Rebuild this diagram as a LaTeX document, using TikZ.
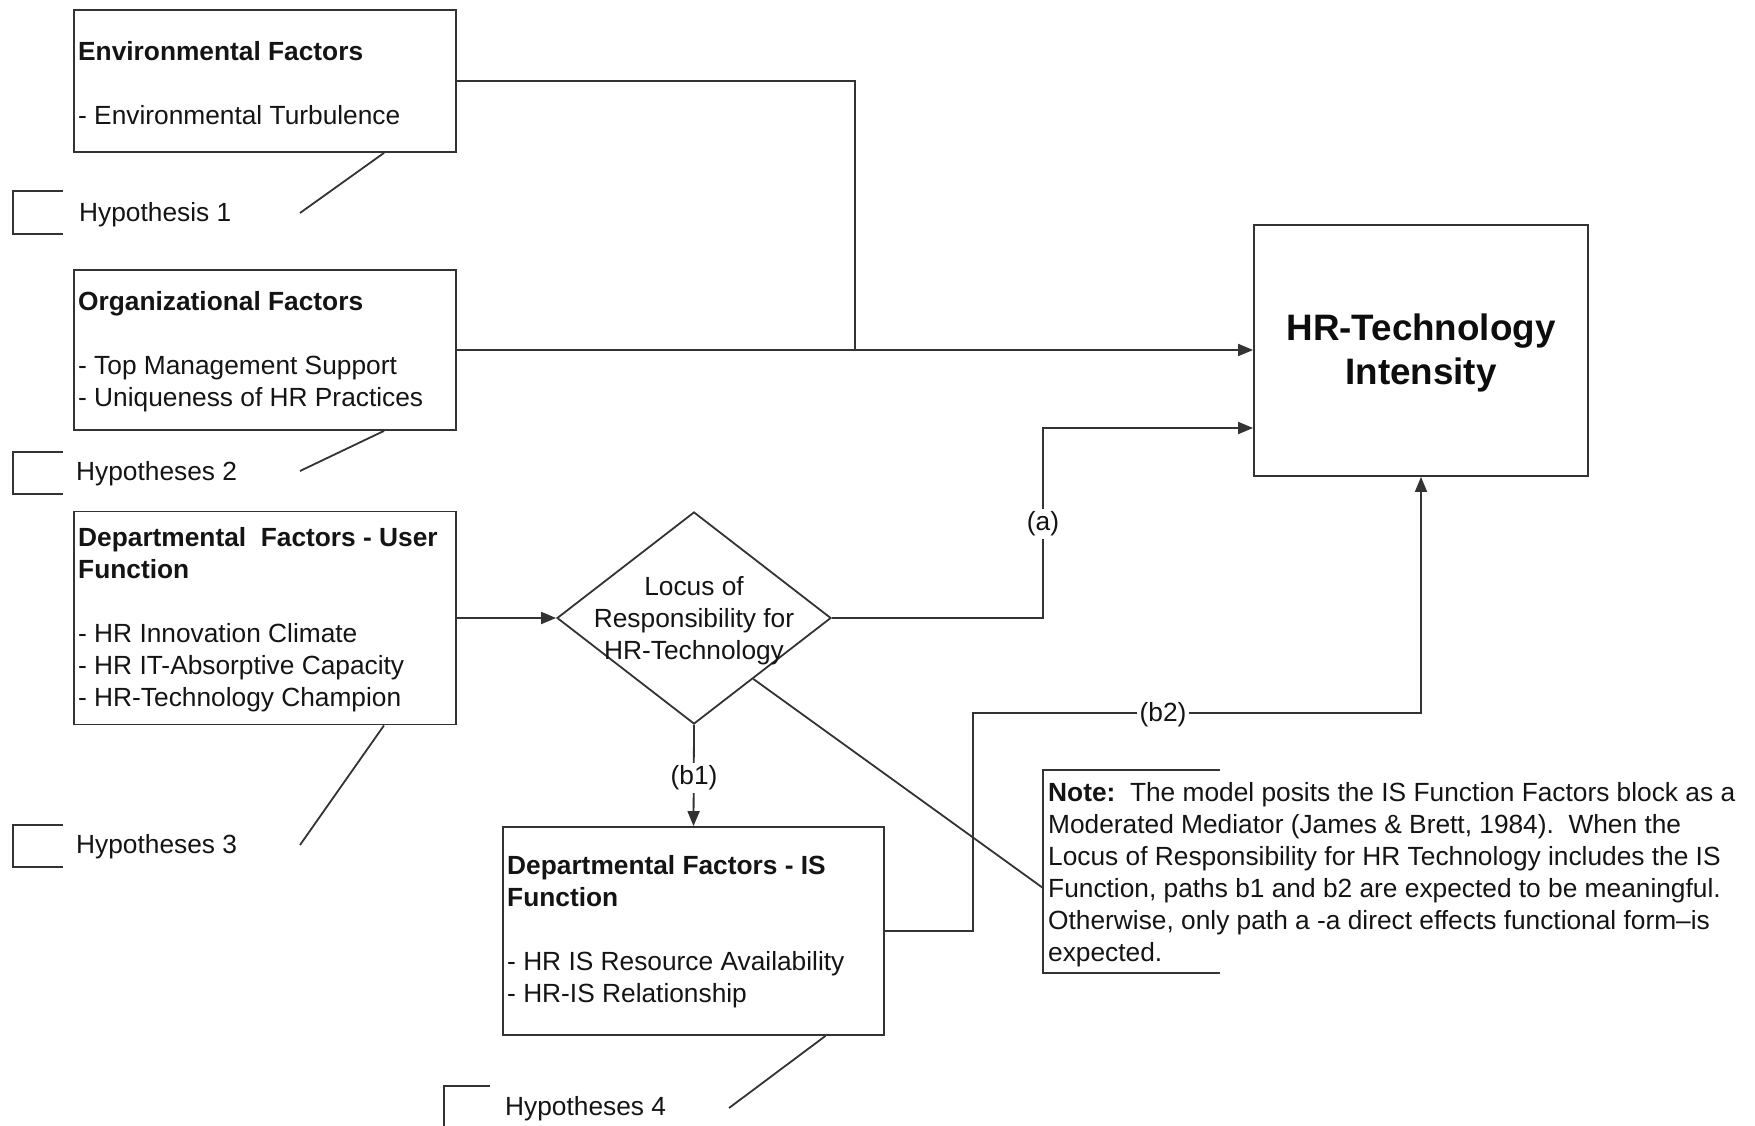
\documentclass[tikz,border=0pt]{standalone}
\usepackage{fontspec}
\setmainfont{Liberation Sans}
\usetikzlibrary{arrows.meta,shapes.geometric,calc}
\begin{document}
\begin{tikzpicture}[x=1pt,y=-1pt,
  ln/.style={draw=black!80,line width=1.8pt},
  arr/.style={ln,-{Triangle[length=15pt,width=12pt]}},
  box/.style={ln,rectangle,inner sep=0pt},
  txt/.style={font=\fontsize{26.3}{32}\selectfont,inner sep=0pt,align=left,text=black!92},
  lbl/.style={font=\fontsize{26.3}{32}\selectfont,inner sep=3pt,fill=white,text=black!92},
  big/.style={font=\fontsize{36.8}{44}\selectfont\bfseries,align=center,text=black!95}]
\useasboundingbox (0,0) rectangle (1755,1126);

% boxes
\node[box,minimum width=382pt,minimum height=142pt] (env) at (265,81) {};
\node[box,minimum width=382pt,minimum height=160pt] (org) at (265,350) {};
\node[box,minimum width=382pt,minimum height=213pt] (uf) at (265,618) {};
\node[box,minimum width=381pt,minimum height=208pt] (is) at (693.5,931) {};
\node[box,minimum width=334pt,minimum height=251pt] (hr) at (1421,350.5) {};
\node[big] (hrT) at (1421,353) {HR-Technology\\Intensity};
\node[ln,diamond,minimum width=274pt,minimum height=212pt,inner sep=0pt] (dia) at (694,618) {};

% box texts
\node[txt,anchor=west] (envT) at (78,83) {\textbf{Environmental Factors}\\[32pt]- Environmental Turbulence};
\node[txt,anchor=west] (orgT) at (78,352) {\textbf{Organizational Factors}\\[32pt]- Top Management Support\\- Uniqueness of HR Practices};
\node[txt,anchor=west] (ufT) at (78,620) {\textbf{Departmental\ \ Factors - User}\\\textbf{Function}\\[32pt]- HR Innovation Climate\\- HR IT-Absorptive Capacity\\- HR-Technology Champion};
\node[txt,anchor=west] (isT) at (507,932) {\textbf{Departmental Factors - IS}\\\textbf{Function}\\[32pt]- HR IS Resource Availability\\- HR-IS Relationship};
\node[txt,align=center] (diaT) at (694,620.5) {Locus of\\Responsibility for\\HR-Technology};

% hypothesis labels
\node[txt,anchor=west] (h1) at (79,215) {Hypothesis 1};
\node[txt,anchor=west] (h2) at (76,474) {Hypotheses 2};
\node[txt,anchor=west] (h3) at (76,847) {Hypotheses 3};
\node[txt,anchor=west] (h4) at (505,1109) {Hypotheses 4};
\draw[ln] (63,191) -- (13,191) -- (13,234) -- (63,234);
\draw[ln] (63,452) -- (13,452) -- (13,494) -- (63,494);
\draw[ln] (63,825) -- (13,825) -- (13,867) -- (63,867);
\draw[ln] (490,1086) -- (444,1086) -- (444,1130);

\coordinate (e1) at (300,213);
\coordinate (e2) at (300,471);
\coordinate (e3) at (300,845);
\coordinate (e4) at (729,1108);
\draw[ln] ($(env.south)+(119,0)$) -- (e1);
\draw[ln] ($(org.south)+(119,0)$) -- (e2);
\draw[ln] ($(uf.south)+(119,0)$) -- (e3);
\draw[ln] ($(is.south)+(132,0)$) -- (e4);

% connectors
\coordinate (j) at (855,350.5);
\draw[ln] (env.east) -| (j);
\draw[arr] (org.east) -- (org.east -| hr.west);
\draw[arr] (uf.east) -- (dia.west);
\coordinate (abend) at (1043,428);
\draw[arr] (dia.east) -| (abend) -- (abend -| hr.west);
\node[lbl] (la) at (1043,524) {(a)};
\draw[arr] (dia.south) -- (is.north);
\node[lbl] (lb1) at (694,778) {(b1)};
\coordinate (b2a) at (973,713);
\draw[arr] (is.east) -| (b2a) -| (hr.south);
\node[lbl] (lb2) at (1163,715) {(b2)};

% note
\draw[ln] (1220,770) -- (1043,770) -- (1043,973) -- (1220,973);
\coordinate (noteL) at (1043,888);
\draw[ln] ($(dia.south)!0.43!(dia.east)$) -- (noteL);
\node[txt,anchor=west] (note) at (1048,874.5) {\textbf{Note:}\ \ The model posits the IS Function Factors block as a\\Moderated Mediator (James \& Brett, 1984).\ \ When the\\Locus of Responsibility for HR Technology includes the IS\\Function, paths b1 and b2 are expected to be meaningful.\\Otherwise, only path a -a direct effects functional form--is\\expected.};
\end{tikzpicture}
\end{document}
